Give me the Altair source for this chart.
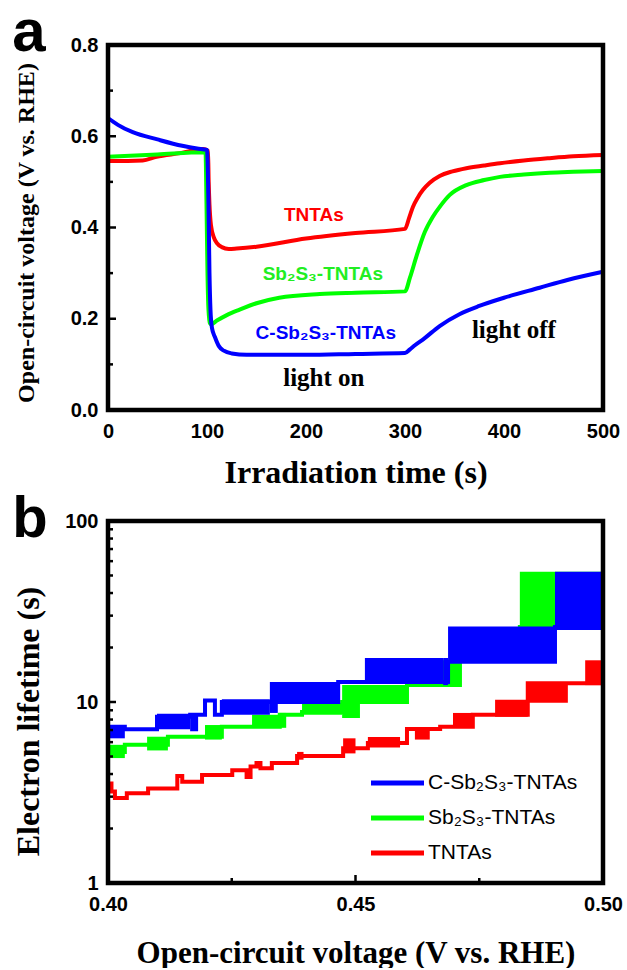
import altair as alt
import pandas as pd

SERIES = ["C-Sb₂S₃-TNTAs", "Sb₂S₃-TNTAs", "TNTAs"]
COLORS = ["#0000ff", "#00ff00", "#ff0000"]

# ---- (a) open-circuit voltage transients: time (s) / voltage (V vs. RHE)
t_c = [0, 10, 25, 50, 75, 90, 100, 101.5, 102.5, 103.5, 105, 108, 112, 117, 125, 140,
       200, 250, 300, 305, 310, 319, 335, 355, 375, 400, 436, 464, 500]
v_c = [0.640, 0.625, 0.609, 0.593, 0.579, 0.573, 0.570, 0.45, 0.30, 0.22, 0.18, 0.16,
       0.14, 0.13, 0.124, 0.121, 0.121, 0.123, 0.125, 0.133, 0.142, 0.156, 0.184, 0.21,
       0.228, 0.246, 0.268, 0.285, 0.303]

t_s = [0, 50, 97, 98.5, 99.5, 100.5, 101.5, 103, 104, 110, 120, 133, 150, 173, 214, 250,
       300, 305, 312, 320, 328, 336, 345, 362, 380, 396, 420, 446, 470, 500]
v_s = [0.555, 0.560, 0.565, 0.565, 0.45, 0.30, 0.22, 0.19, 0.188, 0.196, 0.208, 0.220,
       0.234, 0.246, 0.254, 0.257, 0.260, 0.29, 0.34, 0.39, 0.423, 0.448, 0.471, 0.493,
       0.504, 0.511, 0.516, 0.520, 0.522, 0.524]

t_t = [0, 20, 35, 49, 73, 96, 101, 101.7, 102.5, 104, 107, 110, 115, 122, 130, 150, 200,
       250, 300, 304, 308, 313, 318, 325, 335, 348, 362, 380, 396, 420, 446, 470, 500]
v_t = [0.546, 0.546, 0.547, 0.555, 0.563, 0.572, 0.568, 0.50, 0.45, 0.405, 0.378, 0.366,
       0.357, 0.353, 0.354, 0.358, 0.376, 0.388, 0.397, 0.42, 0.445, 0.466, 0.482, 0.498,
       0.513, 0.523, 0.530, 0.536, 0.541, 0.547, 0.552, 0.556, 0.559]

# ---- (b) electron lifetime vs. open-circuit voltage
# step levels: (voltage where the level starts, lifetime in s)
steps_c = [(0.4000, 7.3), (0.4034, 7.06), (0.4099, 8.3), (0.4166, 8.5), (0.4170, 7.06),
           (0.4178, 8.5), (0.4196, 10.2), (0.4216, 8.5), (0.4230, 10.0), (0.4465, 12.9),
           (0.4687, 16.7), (0.4903, 26.0), (0.5000, 26.0)]
steps_s = [(0.4000, 5.3), (0.4034, 5.8), (0.4121, 6.43), (0.4230, 7.3), (0.4347, 8.5),
           (0.4392, 8.8), (0.4473, 10.0), (0.4604, 12.4), (0.4711, 17.0), (0.4832, 26.0),
           (0.5000, 26.0)]
steps_t = [(0.4000, 3.55), (0.4007, 3.2), (0.4014, 2.95), (0.4038, 3.13), (0.4081, 3.33),
           (0.4140, 3.9), (0.4150, 3.63), (0.4190, 3.95), (0.4251, 4.2), (0.4280, 3.85),
           (0.4288, 4.4), (0.4300, 4.6), (0.4308, 4.3), (0.4331, 4.6), (0.4382, 5.03),
           (0.4475, 5.55), (0.4525, 5.93), (0.4604, 7.1), (0.4671, 7.3), (0.4737, 8.5),
           (0.4848, 12.7), (0.5000, 12.7)]
# rapidly fluctuating stretches: (v start, v end, low, high)
bands_c = [(0.4000, 0.4034, 6.3, 7.3), (0.4099, 0.4166, 7.06, 8.6), (0.4230, 0.4327, 8.5, 10.35),
           (0.4327, 0.4465, 10.0, 12.9), (0.4327, 0.4343, 8.7, 10.0), (0.4519, 0.4677, 12.9, 17.5),
           (0.4677, 0.4687, 12.4, 17.5), (0.4687, 0.4903, 16.7, 26.1), (0.4903, 0.5000, 25.0, 52.4)]
bands_s = [(0.4000, 0.4034, 4.9, 5.8), (0.4079, 0.4121, 5.4, 6.43), (0.4196, 0.4230, 6.2, 7.46),
           (0.4291, 0.4347, 7.2, 8.5), (0.4347, 0.4360, 7.2, 8.7), (0.4392, 0.4473, 8.5, 9.9),
           (0.4473, 0.4604, 10.0, 12.4), (0.4473, 0.4509, 8.15, 10.0), (0.4604, 0.4711, 12.4, 17.0),
           (0.4711, 0.4832, 17.0, 26.0), (0.4832, 0.5000, 26.0, 52.4)]
bands_t = [(0.4382, 0.4395, 4.8, 5.3), (0.4475, 0.4500, 5.2, 6.3), (0.4525, 0.4590, 5.6, 6.4),
           (0.4620, 0.4650, 6.2, 7.1), (0.4697, 0.4737, 7.2, 8.7), (0.4782, 0.4848, 8.3, 10.3),
           (0.4848, 0.4929, 9.9, 12.9), (0.4964, 0.5000, 12.4, 17.0)]

# on-plot labels of panel (a)
ann_names = ["TNTAs", "Sb₂S₃-TNTAs", "C-Sb₂S₃-TNTAs"]
ann_t = [208, 217, 220]
ann_v = [0.427, 0.297, 0.168]
ann_col = ["#ff0000", "#22ee22", "#0000ff"]
light_text = ["light on", "light off"]
light_t = [218, 410]
light_v = [0.070, 0.176]

W, HA, HB = 495, 365, 362
SANS, SERIF = "Liberation Sans", "Liberation Serif"


def axis(title, values, fmt, tx, ty, **kw):
    return alt.Axis(title=title, values=values, format=fmt, ticks=False, tickSize=0,
                    domain=False, grid=False, labelFlush=False, labelOverlap=False,
                    labelFont=SANS, labelFontWeight="bold", labelFontSize=20,
                    labelColor="black", titleFont=SERIF, titleFontWeight="bold",
                    titleColor="black", titleX=tx, titleY=ty, titleAlign="center", **kw)


def inner_ticks(vals, length, xenc=None, yenc=None, height=None):
    df = pd.DataFrame({"v": vals})
    base = alt.Chart(df).mark_rule(color="black", strokeWidth=2.5)
    if yenc is not None:
        return base.encode(y=yenc, x=alt.value(0), x2=alt.value(length))
    return base.encode(x=xenc, y=alt.value(height), y2=alt.value(height - length))


def frame(height):
    # heavy black box around the plotting area
    return alt.Chart(pd.DataFrame({"f": [0]})).mark_rect(
        filled=False, stroke="black", strokeWidth=4.5).encode(
        x=alt.value(0), x2=alt.value(W), y=alt.value(0), y2=alt.value(height))


color_scale = alt.Scale(domain=SERIES, range=COLORS)

# ---------------- panel (a)
xs_a = alt.Scale(domain=[0, 500], nice=False)
ys_a = alt.Scale(domain=[0, 0.8], nice=False)
ax_xa = axis("Irradiation time (s)", [0, 100, 200, 300, 400, 500], "d", W / 2, 72,
             labelPadding=11, titleFontSize=32, titleBaseline="alphabetic")
ax_ya = axis("Open-circuit voltage (V vs. RHE)", [0, 0.2, 0.4, 0.6, 0.8], ".1f", -70, HA / 2 + 5,
             labelPadding=10, titleFontSize=24, titleBaseline="bottom")

rows = []
for name, ts, vs in [("TNTAs", t_t, v_t), ("Sb₂S₃-TNTAs", t_s, v_s), ("C-Sb₂S₃-TNTAs", t_c, v_c)]:
    rows += [{"series": name, "t": a, "v": b} for a, b in zip(ts, vs)]
df_a = pd.DataFrame(rows)

X_A = alt.X("t:Q", scale=xs_a, axis=ax_xa)
Y_A = alt.Y("v:Q", scale=ys_a, axis=ax_ya)

lines_a = alt.Chart(df_a).mark_line(strokeWidth=4, interpolate="monotone").encode(
    x=X_A, y=Y_A,
    stroke=alt.Stroke("series:N", scale=color_scale, legend=None),
    order=alt.Order("t:Q"),
    detail="series:N",
)

df_ann = pd.DataFrame({"label": ann_names, "t": ann_t, "v": ann_v, "c": ann_col})
ann_a = alt.Chart(df_ann).mark_text(font=SANS, fontWeight="bold", fontSize=19,
                                    baseline="middle", align="center").encode(
    x=X_A, y=Y_A, text="label:N", color=alt.Color("c:N", scale=None))

df_light = pd.DataFrame({"label": light_text, "t": light_t, "v": light_v})
light_a = alt.Chart(df_light).mark_text(font=SERIF, fontWeight="bold", fontSize=25,
                                        baseline="middle", align="center", color="black").encode(
    x=X_A, y=Y_A, text="label:N")

tick_a = [
    inner_ticks([0.1, 0.3, 0.5, 0.7], 5, yenc=Y_A),
    inner_ticks([0.2, 0.4, 0.6], 8, yenc=Y_A),
    inner_ticks([50, 150, 250, 350, 450], 5, xenc=X_A, height=HA),
    inner_ticks([100, 200, 300, 400], 8, xenc=X_A, height=HA),
]

letter_a = alt.Chart(pd.DataFrame({"s": ["a"]})).mark_text(
    font=SANS, fontWeight="bold", fontSize=60, align="center", baseline="alphabetic",
    color="black").encode(x=alt.value(-79), y=alt.value(6), text="s:N")

panel_a = alt.layer(lines_a, ann_a, light_a, *tick_a, frame(HA), letter_a).properties(
    width=W, height=HA)

# ---------------- panel (b)
xs_b = alt.Scale(domain=[0.40, 0.50], nice=False)
ys_b = alt.Scale(type="log", domain=[1, 100], nice=False)
ax_xb = axis("Open-circuit voltage (V vs. RHE)", [0.40, 0.45, 0.50], ".2f", W / 2, 79,
             labelPadding=11, titleFontSize=31, titleBaseline="alphabetic")
ax_yb = axis("Electron lifetime (s)", [1, 10, 100], "d", -63, 200,
             labelPadding=10, titleFontSize=32, titleBaseline="bottom")

X_B = alt.X("v:Q", scale=xs_b, axis=ax_xb)
Y_B = alt.Y("tau:Q", scale=ys_b, axis=ax_yb)

layers_b = []
for name, steps, bands in [("TNTAs", steps_t, bands_t), ("Sb₂S₃-TNTAs", steps_s, bands_s),
                           ("C-Sb₂S₃-TNTAs", steps_c, bands_c)]:
    df_band = pd.DataFrame([{"series": name, "v": a, "v1": b, "tau": lo, "tau1": hi}
                            for a, b, lo, hi in bands])
    df_step = pd.DataFrame([{"series": name, "v": a, "tau": b} for a, b in steps])
    layers_b.append(alt.Chart(df_band).mark_rect(clip=True).encode(
        x=X_B, x2="v1:Q", y=Y_B, y2="tau1:Q",
        fill=alt.Fill("series:N", scale=color_scale, legend=None)))
    layers_b.append(alt.Chart(df_step).mark_line(strokeWidth=4, interpolate="step-after",
                                                 clip=True).encode(
        x=X_B, y=Y_B, order=alt.Order("v:Q"),
        stroke=alt.Stroke("series:N", scale=color_scale, legend=None)))

minor_log = [2, 3, 4, 5, 6, 7, 8, 9, 20, 30, 40, 50, 60, 70, 80, 90]
Y_BT = alt.Y("v:Q", scale=ys_b, axis=ax_yb)
tick_b = [
    inner_ticks(minor_log, 5, yenc=Y_BT),
    inner_ticks([10], 8, yenc=Y_BT),
    inner_ticks([0.425, 0.475], 5, xenc=X_B, height=HB),
    inner_ticks([0.45], 8, xenc=X_B, height=HB),
]

# legend drawn as short line samples with labels
legend_rows = [262, 297, 332]
legend_b = []
for name, col, yy in zip(SERIES, COLORS, legend_rows):
    d = pd.DataFrame({"s": [name]})
    legend_b.append(alt.Chart(d).mark_rule(color=col, strokeWidth=5).encode(
        x=alt.value(263), x2=alt.value(316), y=alt.value(yy)))
    legend_b.append(alt.Chart(d).mark_text(font=SANS, fontSize=21, align="left",
                                           baseline="middle", color="black").encode(
        x=alt.value(320), y=alt.value(yy), text="s:N"))

letter_b = alt.Chart(pd.DataFrame({"s": ["b"]})).mark_text(
    font=SANS, fontWeight="bold", fontSize=58, align="center", baseline="alphabetic",
    color="black").encode(x=alt.value(-78), y=alt.value(16), text="s:N")

panel_b = alt.layer(*layers_b, *tick_b, frame(HB), *legend_b, letter_b).properties(
    width=W, height=HB)

chart = alt.vconcat(panel_a, panel_b, spacing=3).properties(
    padding={"left": 12, "top": 3, "right": 0, "bottom": 0},
    background="white",
).configure_view(stroke=None)

chart.save("out.html", embed_options={"renderer": "svg", "actions": False})
